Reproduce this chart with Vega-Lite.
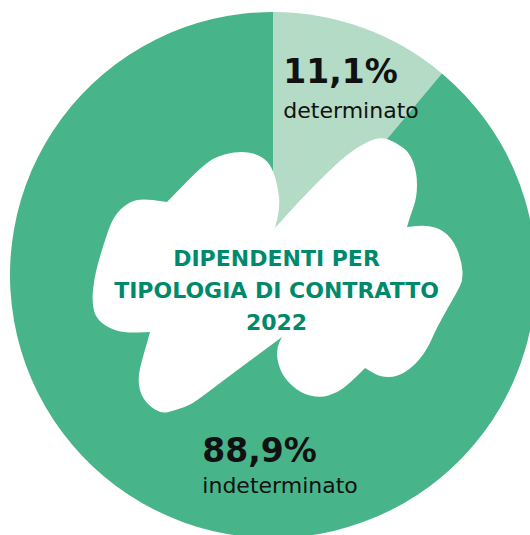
{
  "$schema": "https://vega.github.io/schema/vega-lite/v6.json",
  "width": 526,
  "height": 526,
  "autosize": {"type": "none"},
  "padding": {"left": 10, "top": 12, "right": 0, "bottom": 0},
  "background": "white",
  "data": {"values": [
    {"tipo": "determinato", "pct": 11.1, "label": "11,1%"},
    {"tipo": "indeterminato", "pct": 88.9, "label": "88,9%"}
  ]},
  "config": {"view": {"stroke": null}},
  "layer": [
    {
      "mark": {"type": "arc", "outerRadius": 263, "strokeWidth": 0},
      "encoding": {
        "theta": {"field": "pct", "type": "quantitative", "stack": true},
        "order": {"field": "tipo"},
        "color": {"field": "tipo", "type": "nominal", "legend": null,
          "scale": {"domain": ["determinato", "indeterminato"], "range": ["#b3dbc6", "#48b489"]}}
      }
    },
    {
      "data": {"values": [{"forma": "nuvola"}]},
      "mark": {"type": "point", "filled": true, "color": "white", "opacity": 1, "strokeWidth": 0, "size": 4,
        "shape": "M2,-47 L16,-62.5 Q30,-78 47,-95 Q64,-112 74,-120 Q84,-128 95.5,-133.5 Q107,-139 115.5,-135.5 Q124,-132 130.5,-127 Q137,-122 140.5,-112 Q144,-102 144,-90 Q144,-78 140.5,-68 Q137,-58 135.5,-53 L134,-48 L144,-49 Q154,-50 162,-47.5 Q170,-45 176,-38.5 Q182,-32 185.5,-22 Q189,-12 189.5,-3.5 Q190,5 187,11 Q184,17 174,34.5 Q164,52 159,63.5 Q154,75 147,83.5 Q140,92 132,97 Q124,102 115.5,102 Q107,102 99.5,97.5 L92,93 L84.5,100.5 Q77,108 70.5,113 Q64,118 55.5,120.5 Q47,123 37,120.5 Q27,118 18.5,110 Q10,102 7,93.5 Q4,85 4,78.5 Q4,72 6.5,67 L9,62 L-4.5,72 Q-18,82 -31.5,92 Q-45,102 -61.5,114.5 Q-78,127 -83,129.5 Q-88,132 -93,133.5 Q-98,135 -104.5,137 Q-111,139 -118,134.5 Q-125,130 -129,124 Q-133,118 -134,110 Q-135,102 -133,93.5 Q-131,85 -128.5,76.5 Q-126,68 -124.5,62.5 L-123,57 L-135.5,57.5 Q-148,58 -156.5,55.5 Q-165,53 -171.5,47.5 Q-178,42 -179.5,33.5 Q-181,25 -180,15 Q-179,5 -177,-3.5 Q-175,-12 -171.5,-23.5 Q-168,-35 -164.5,-45 Q-161,-55 -156,-61.5 Q-151,-68 -143,-72.5 Q-135,-77 -120.5,-75 L-106,-73 L-87,-92.5 Q-68,-112 -59,-116.5 Q-50,-121 -39,-122.5 Q-28,-124 -19.5,-121.5 Q-11,-119 -6,-113.5 Q-1,-108 2,-98 Q5,-88 6,-78 Q7,-68 4.5,-57.5 L2,-47 Z"},
      "encoding": {}
    },
    {
      "data": {"values": [{"titolo": ["DIPENDENTI PER", "TIPOLOGIA DI CONTRATTO", "2022"]}]},
      "mark": {"type": "text", "font": "DejaVu Sans", "fontWeight": "bold", "fontSize": 22, "color": "#00896b",
        "align": "center", "baseline": "middle", "lineHeight": 32, "dx": 3.5, "dy": -16},
      "encoding": {"text": {"field": "titolo"}}
    },
    {
      "transform": [{"filter": "datum.tipo === 'determinato'"}],
      "layer": [
        {
          "mark": {"type": "text", "radius": 200, "font": "DejaVu Sans", "fontWeight": "bold", "fontSize": 33,
            "color": "#111111", "align": "left", "baseline": "alphabetic", "dx": -58, "dy": -4},
          "encoding": {"theta": {"field": "pct", "type": "quantitative", "stack": true, "scale": {"domain": [0, 100]}}, "text": {"field": "label"}}
        },
        {
          "mark": {"type": "text", "radius": 200, "font": "DejaVu Sans", "fontSize": 22,
            "color": "#111111", "align": "left", "baseline": "alphabetic", "dx": -58, "dy": 31},
          "encoding": {"theta": {"field": "pct", "type": "quantitative", "stack": true, "scale": {"domain": [0, 100]}}, "text": {"field": "tipo"}}
        }
      ]
    },
    {
      "transform": [{"filter": "datum.tipo === 'indeterminato'"}],
      "layer": [
        {
          "mark": {"type": "text", "radius": 200, "font": "DejaVu Sans", "fontWeight": "bold", "fontSize": 33,
            "color": "#111111", "align": "left", "baseline": "alphabetic", "dx": -139, "dy": -1},
          "encoding": {"theta": {"field": "pct", "type": "quantitative", "stack": true, "scale": {"domain": [0, 100]}}, "text": {"field": "label"}}
        },
        {
          "mark": {"type": "text", "radius": 200, "font": "DejaVu Sans", "fontSize": 22,
            "color": "#111111", "align": "left", "baseline": "alphabetic", "dx": -139, "dy": 30},
          "encoding": {"theta": {"field": "pct", "type": "quantitative", "stack": true, "scale": {"domain": [0, 100]}}, "text": {"field": "tipo"}}
        }
      ]
    }
  ]
}
